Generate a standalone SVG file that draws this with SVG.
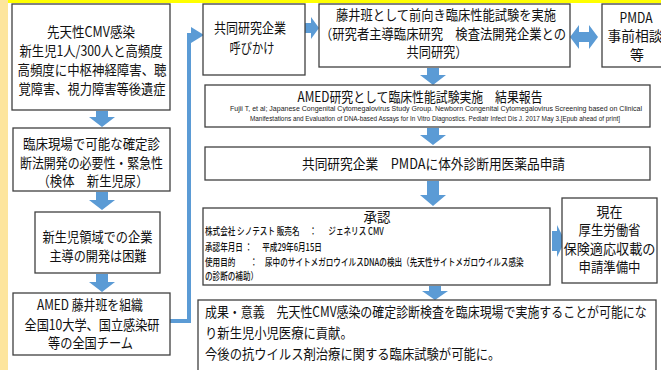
<svg xmlns="http://www.w3.org/2000/svg" width="661" height="370" viewBox="0 0 661 370">
<style>
.box{fill:#fff;stroke:#404040;stroke-width:1.3}
.t{font-family:"Noto Sans CJK JP","Noto Sans CJK SC",sans-serif;font-size:14px;fill:#111;text-anchor:middle}
.l{font-family:"Noto Sans CJK JP","Noto Sans CJK SC",sans-serif;font-size:14px;fill:#111}
.s{font-family:"Noto Sans CJK JP",sans-serif;font-size:10px;font-weight:500;fill:#111}
.c{font-family:"Liberation Sans",sans-serif;font-size:6.5px;fill:#222}
.arr{fill:#5b9bd5}
</style>
<rect width="661" height="370" fill="#fff"/>
<rect x="0" y="0" width="661" height="3" fill="#ffff00"/>
<rect x="0" y="0" width="8" height="370" fill="#fde59d"/>

<g id="connectors">
<path class="arr" d="M96,111 H108 V117 H115 L102,127 L89,117 H96 Z"/>
<path class="arr" d="M96,192 H108 V200 H115 L102,210 L89,200 H96 Z"/>
<path class="arr" d="M96,274 H108 V282 H115 L102,292 L89,282 H96 Z"/>
<path d="M170,321 H189 V35 H193" fill="none" stroke="#5b9bd5" stroke-width="4"/>
<polygon class="arr" points="191,27 204,35 191,43"/>
<path class="arr" d="M305,23 H311 V17 L319,28 L311,39 V33 H305 Z"/>
<path class="arr" d="M570,37 L579,25 V32 H589 V25 L598,37 L589,49 V42 H579 V49 Z"/>
<path class="arr" d="M427,68 H439 V75 H446 L433,85 L420,75 H427 Z"/>
<path class="arr" d="M427,128 H439 V135 H446 L433,145 L420,135 H427 Z"/>
<path class="arr" d="M427,181 H439 V195 H446 L433,206 L420,195 H427 Z"/>
<path class="arr" d="M552,231 H557 V225 L565,241 L557,257 V251 H552 Z"/>
<path class="arr" d="M429,286 H441 V291 H448 L435,300 L422,291 H429 Z"/>
</g>

<g id="n1">
<rect class="box" x="12" y="4" width="158" height="106"/>
<text class="t" x="91" y="37" textLength="88" lengthAdjust="spacingAndGlyphs">先天性CMV感染</text>
<text class="t" x="91" y="55.5" textLength="143" lengthAdjust="spacingAndGlyphs">新生児1人/300人と高頻度</text>
<text class="t" x="92" y="75" textLength="149" lengthAdjust="spacingAndGlyphs">高頻度に中枢神経障害、聴</text>
<text class="t" x="92" y="93.5" textLength="147" lengthAdjust="spacingAndGlyphs">覚障害、視力障害等後遺症</text>
</g>

<g id="n2">
<rect class="box" x="13" y="128" width="157" height="63"/>
<text class="t" x="91.5" y="149" textLength="137" lengthAdjust="spacingAndGlyphs">臨床現場で可能な確定診</text>
<text class="t" x="91.5" y="167.5" textLength="143" lengthAdjust="spacingAndGlyphs">断法開発の必要性・緊急性</text>
<text class="t" x="93" y="186" textLength="111" lengthAdjust="spacingAndGlyphs">（検体　新生児尿）</text>
</g>

<g id="n3">
<rect class="box" x="35" y="212" width="125" height="61"/>
<text class="t" x="97.5" y="242" textLength="110" lengthAdjust="spacingAndGlyphs">新生児領域での企業</text>
<text class="t" x="98" y="260.5" textLength="97" lengthAdjust="spacingAndGlyphs">主導の開発は困難</text>
</g>

<g id="n4">
<rect class="box" x="13" y="293" width="157" height="62"/>
<text class="t" x="90" y="310" textLength="106" lengthAdjust="spacingAndGlyphs">AMED 藤井班を組織</text>
<text class="t" x="92" y="330" textLength="135" lengthAdjust="spacingAndGlyphs">全国10大学、国立感染研</text>
<text class="t" x="90.5" y="348" textLength="85" lengthAdjust="spacingAndGlyphs">等の全国チーム</text>
</g>

<g id="n5">
<rect class="box" x="203" y="4" width="102" height="71"/>
<text class="t" x="250" y="33" textLength="72" lengthAdjust="spacingAndGlyphs">共同研究企業</text>
<text class="t" x="252" y="53" textLength="45" lengthAdjust="spacingAndGlyphs">呼びかけ</text>
</g>

<g id="n6">
<rect class="box" x="319" y="4" width="251" height="63"/>
<text class="t" x="446" y="20" font-size="13.5" textLength="220" lengthAdjust="spacingAndGlyphs">藤井班として前向き臨床性能試験を実施</text>
<text class="t" x="443" y="38.5" font-size="13.5" textLength="246" lengthAdjust="spacingAndGlyphs">（研究者主導臨床研究　検査法開発企業との</text>
<text class="t" x="437" y="57" font-size="13.5" textLength="61" lengthAdjust="spacingAndGlyphs">共同研究）</text>
</g>

<g id="n7">
<rect class="box" x="602" y="4" width="80" height="63"/>
<text class="t" x="636" y="22.5" font-size="13" textLength="33" lengthAdjust="spacingAndGlyphs">PMDA</text>
<text class="t" x="635" y="41" font-size="13.5" textLength="55" lengthAdjust="spacingAndGlyphs">事前相談</text>
<text class="t" x="637" y="59.5" font-size="13.5">等</text>
</g>

<g id="n8">
<rect class="box" x="205" y="85" width="445" height="42"/>
<text class="t" x="420" y="101.5" font-size="14.5" textLength="245" lengthAdjust="spacingAndGlyphs">AMED研究として臨床性能試験実施　結果報告</text>
<text class="c" x="230" y="111" textLength="412" lengthAdjust="spacingAndGlyphs">Fujii T, et al; Japanese Congenital Cytomegalovirus Study Group.   Newborn Congenital Cytomegalovirus Screening based on Clinical</text>
<text class="c" x="250" y="121" textLength="370" lengthAdjust="spacingAndGlyphs">Manifestations and Evaluation of DNA-based Assays for In Vitro Diagnostics. Pediatr Infect Dis J. 2017 May 3.[Epub ahead of print]</text>
</g>

<g id="n9">
<rect class="box" x="205" y="147" width="445" height="33"/>
<text class="t" x="433.5" y="168.5" textLength="263" lengthAdjust="spacingAndGlyphs">共同研究企業　PMDAに体外診断用医薬品申請</text>
</g>

<g id="n10">
<rect class="box" x="203" y="208" width="347" height="77"/>
<text class="t" x="377" y="222" font-size="15" textLength="27" lengthAdjust="spacingAndGlyphs">承認</text>
<g transform="matrix(0.76,0,0,1,0,0)">
<text class="s" y="235.5"><tspan x="269.7">株式会社 シノテスト 販売名</tspan><tspan x="407">：</tspan><tspan x="432">ジェネリス CMV</tspan></text>
<text class="s" y="251.5"><tspan x="269.7">承認年月日</tspan><tspan x="322">：</tspan><tspan x="345">平成29年6月15日</tspan></text>
<text class="s" y="266"><tspan x="269.7">使用目的</tspan><tspan x="329">：</tspan><tspan x="348.7">尿中のサイトメガロウイルスDNAの検出（先天性サイトメガロウイルス感染</tspan></text>
<text class="s" x="269.7" y="280">の診断の補助）</text>
</g>
</g>

<g id="n12">
<rect class="box" x="198" y="300" width="458" height="90"/>
<g transform="matrix(0.853,0,0,1,0,0)">
<text class="l" x="240.3" y="317">成果・意義　先天性CMV感染の確定診断検査を臨床現場で実施することが可能にな</text>
</g>
<g transform="matrix(0.88,0,0,1,0,0)">
<text class="l" x="233" y="338">り新生児小児医療に貢献。</text>
<text class="l" x="233" y="359">今後の抗ウイルス剤治療に関する臨床試験が可能に。</text>
</g>
</g>

<g id="n11">
<rect class="box" x="562" y="198" width="95" height="85"/>
<text class="t" x="609.5" y="216.5" font-size="15" textLength="26" lengthAdjust="spacingAndGlyphs">現在</text>
<text class="t" x="609.5" y="235" font-size="15" textLength="62" lengthAdjust="spacingAndGlyphs">厚生労働省</text>
<text class="t" x="609.5" y="253.5" font-size="15" textLength="92" lengthAdjust="spacingAndGlyphs">保険適応収載の</text>
<text class="t" x="609.5" y="272" font-size="15" textLength="62" lengthAdjust="spacingAndGlyphs">申請準備中</text>
</g>
</svg>
